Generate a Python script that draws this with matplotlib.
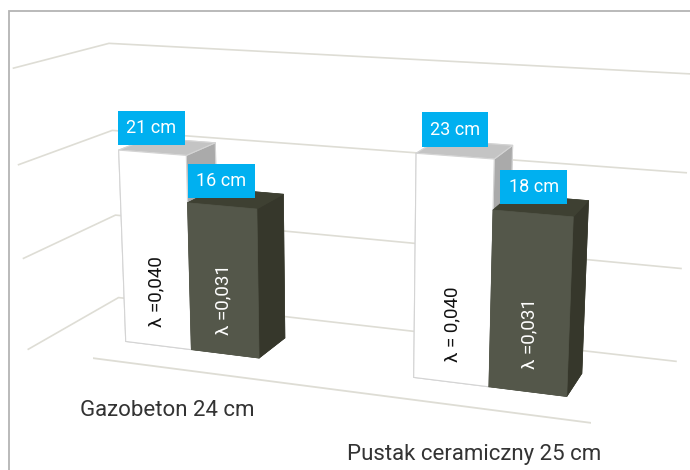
import numpy as np
import matplotlib
matplotlib.use("Agg")
import matplotlib.pyplot as plt
from matplotlib.patches import Rectangle
from mpl_toolkits.mplot3d import proj3d

# data
categories = ["Gazobeton 24 cm", "Pustak ceramiczny 25 cm"]
thick_std = [21, 23]          # insulation needed, lambda 0,040
thick_new = [16, 18]          # insulation needed, lambda 0,031
lambda_std = ["λ =0,040", "λ = 0,040"]
lambda_new = ["λ =0,031", "λ =0,031"]

plt.rcParams["font.family"] = ["Roboto", "DejaVu Sans"]

grid_col = "#DEDDD5"
blue = "#00B0F0"
# face order of bar3d: -z, +z, -y, +y, -x, +x
white_faces = ["#FFFFFF", "#C4C4C4", "#FFFFFF", "#FFFFFF", "#FFFFFF", "#AAAAAA"]
dark_faces = ["#54574A", "#3E4032", "#54574A", "#54574A", "#54574A", "#36372B"]

fig = plt.figure(figsize=(6.9, 4.7), dpi=100)
ax = fig.add_axes([-0.0346, -0.0051, 1.06, 1.06], projection="3d")
ax.computed_zorder = False
# camera roughly like the Excel 3-D column view
ax.set_proj_type("persp", focal_length=0.576)
ax.view_init(elev=14.06, azim=-69.75)

depth = 1.0
bar_w = 0.24
y0, dy = 0.30 * depth, 0.35 * depth

# walls: only the gridlines
for axis in (ax.xaxis, ax.yaxis, ax.zaxis):
    axis.set_pane_color((1, 1, 1, 0))
    axis.line.set_color((1, 1, 1, 0))
    axis._axinfo["grid"].update(color=grid_col, linewidth=1.2)
    axis.label.set_visible(False)
    axis.offsetText.set_visible(False)

# front edge of the floor
ax.plot([0, len(categories)], [0, 0], [0, 0], color=grid_col, lw=1.3)


def flat(x, y, z):
    px, py, _ = proj3d.proj_transform(x, y, z, ax.get_proj())
    return px, py


for i in range(len(categories)):
    c = i + 0.5
    ax.bar3d(c - bar_w, y0, 0, bar_w, dy, thick_std[i], color=white_faces,
             shade=False, edgecolor="#D4D4D4", linewidth=0.8)
    ax.bar3d(c, y0, 0, bar_w, dy, thick_new[i], color=dark_faces,
             shade=False, edgecolor=dark_faces, linewidth=0.5)

ax.set_xlim(0, len(categories))
ax.set_ylim(0, depth)
ax.set_zlim(0, 30)
ax.set_box_aspect((2.2, 0.677, 1.014), zoom=1.416)
ax.set_xticks([])
ax.set_yticks([])
ax.set_zticks([0, 10, 20, 30])
ax.set_zticklabels([])
ax.tick_params(axis="z", colors=(1, 1, 1, 0))
ax.zaxis.set_tick_params(label1On=False, label2On=False)

for i in range(len(categories)):
    c = i + 0.5

    # value boxes
    ax.text(c - bar_w / 2, y0, thick_std[i] + 2.6, f"{thick_std[i]} cm",
            ha="center", va="center", color="white", fontsize=13, zorder=10,
            bbox=dict(boxstyle="square,pad=0.45", fc=blue, ec="none"))
    ax.text(c + bar_w / 2, y0, thick_new[i] + 2.6, f"{thick_new[i]} cm",
            ha="center", va="center", color="white", fontsize=13, zorder=10,
            bbox=dict(boxstyle="square,pad=0.45", fc=blue, ec="none"))

    # lambda labels, running up the front faces
    px, py = flat(c - bar_w / 2, y0, 6)
    ax.text2D(px, py, lambda_std[i], transform=ax.transData, rotation=90,
              ha="center", va="center", color="#111111", fontsize=13.5,
              zorder=10)
    px, py = flat(c + bar_w / 2, y0, 6)
    ax.text2D(px, py, lambda_new[i], transform=ax.transData, rotation=90,
              ha="center", va="center", color="white", fontsize=13.5,
              zorder=10)

    # category label under the floor
    ax.text(c + 0.02, -0.06 * depth, -4.2, categories[i], ha="center",
            va="center", color="#333333", fontsize=16, zorder=10)

# chart area border (cropped on the right and bottom)
fig.add_artist(Rectangle((9 / 690, -0.1), 1.2, 1.1 - 11 / 470,
                         transform=fig.transFigure, fill=False,
                         ec="#B4B4B4", lw=1.3))

fig.savefig("out.png", dpi=100)
